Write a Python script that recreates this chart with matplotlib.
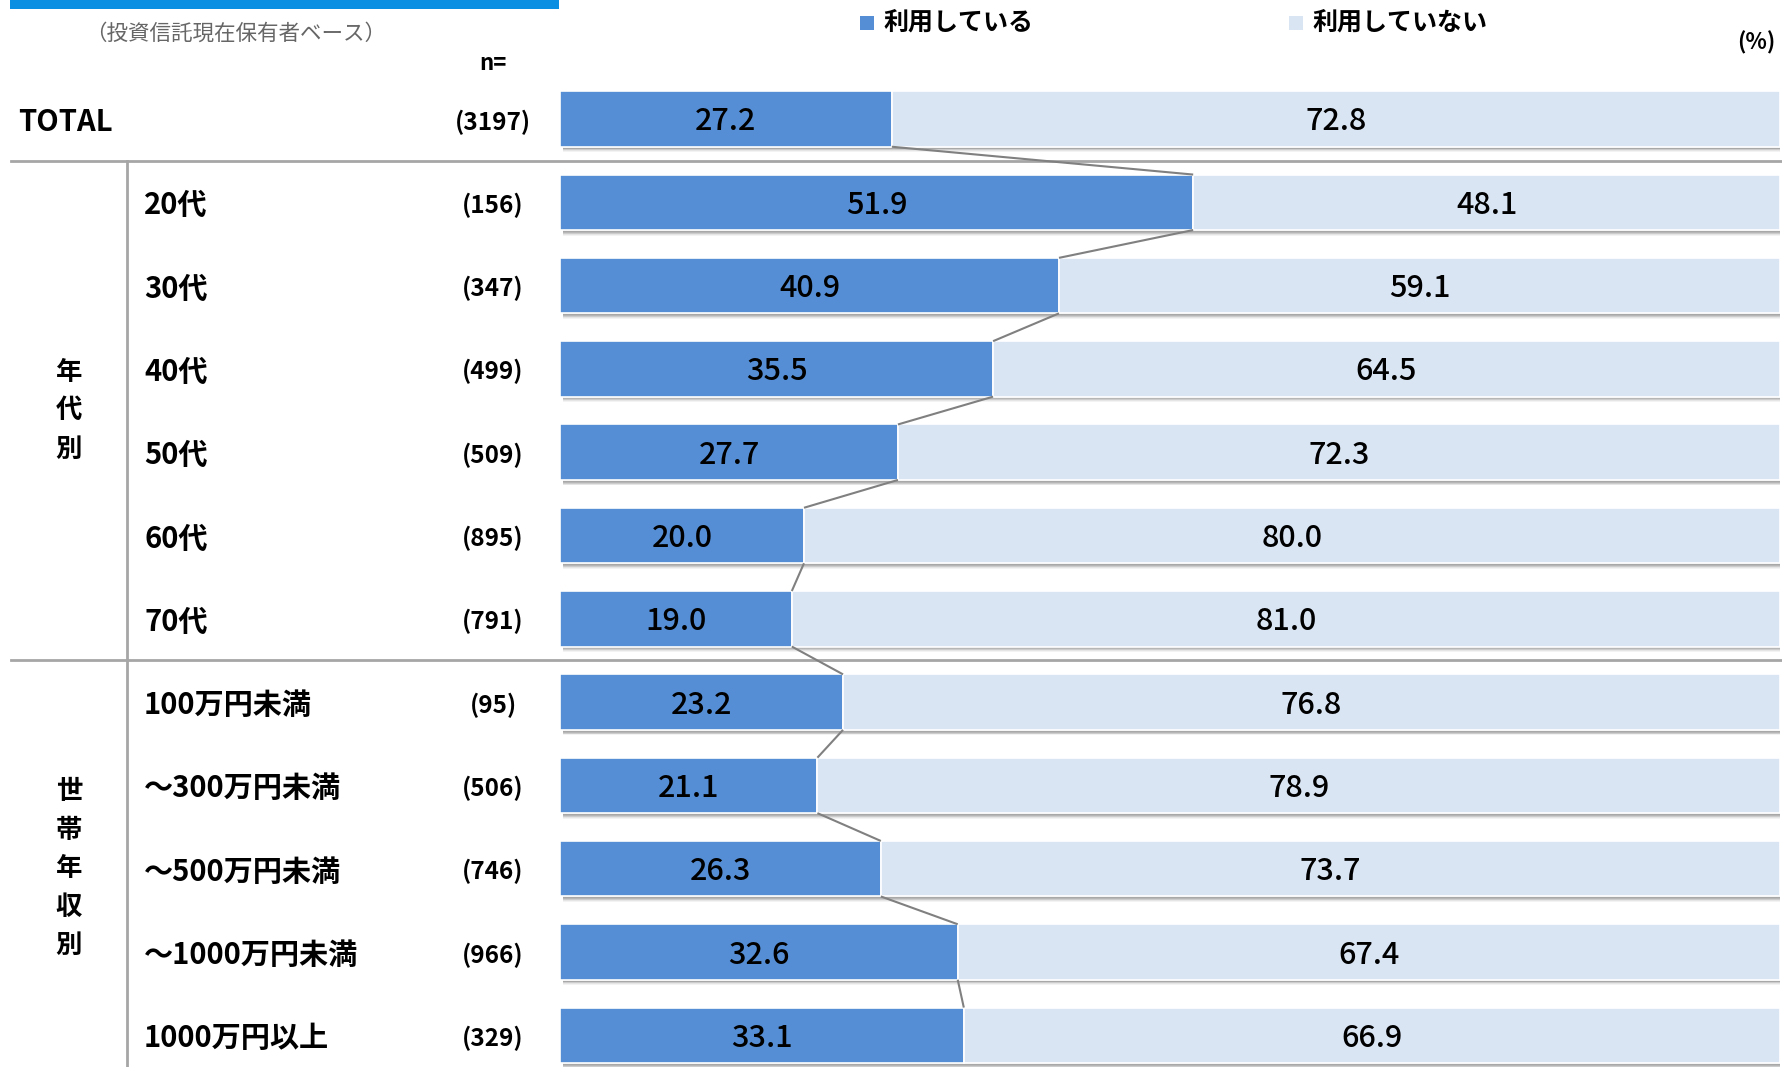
import matplotlib
matplotlib.use("Agg")
import matplotlib.pyplot as plt
from matplotlib.patches import Rectangle

plt.rcParams["font.family"] = ["Noto Sans CJK JP", "DejaVu Sans"]

# データ（％）
labels = ["TOTAL", "20代", "30代", "40代", "50代", "60代", "70代",
          "100万円未満", "～300万円未満", "～500万円未満", "～1000万円未満", "1000万円以上"]
n_values = [3197, 156, 347, 499, 509, 895, 791, 95, 506, 746, 966, 329]
using = [27.2, 51.9, 40.9, 35.5, 27.7, 20.0, 19.0, 23.2, 21.1, 26.3, 32.6, 33.1]
not_using = [72.8, 48.1, 59.1, 64.5, 72.3, 80.0, 81.0, 76.8, 78.9, 73.7, 67.4, 66.9]
series_names = ["利用している", "利用していない"]
groups = [("年代別", 1, 6), ("世帯年収別", 7, 11)]

C_USE, C_NOT = "#558ed5", "#dae5f4"
C_LINE = "#a6a6a6"

W, H = 1782, 1067
ROW0, STEP = 119, 83.3      # 行の中心位置（px）
BAR_X0, BAR_X1 = 560, 1780  # 0%〜100% の位置（px）
BAR_H = 0.666
DY = 3                      # 文字の縦位置の微調整（px）

fig = plt.figure(figsize=(W / 100, H / 100), dpi=100)

# 左側の表部分（ピクセル座標）
ov = fig.add_axes([0, 0, 1, 1])
ov.set_xlim(0, W)
ov.set_ylim(H, 0)
ov.axis("off")

# バー部分（x=％, y=行番号）
ax = fig.add_axes([BAR_X0 / W, 0, (BAR_X1 - BAR_X0) / W, 1])
ax.set_xlim(0, 100)
ax.set_ylim((H - ROW0) / STEP, -ROW0 / STEP)
ax.axis("off")
ax.patch.set_alpha(0)


def row_y(i):
    return ROW0 + STEP * i


# 上部の帯・注記・凡例
ov.add_patch(Rectangle((10, 0), 549, 9, color="#0a8fe3", lw=0))
ov.text(85, 34, "（投資信託現在保有者ベース）", fontsize=15.5, color="#666666",
        va="center", ha="left")
ov.text(493, 63, "n=", fontsize=16, fontweight="bold", va="center", ha="center")
ov.text(1775, 43, "(%)", fontsize=16, fontweight="bold", va="center", ha="right")
for x, name, c in [(867, series_names[0], C_USE), (1296, series_names[1], C_NOT)]:
    ov.add_patch(Rectangle((x - 7, 16), 14, 14, color=c, lw=0))
    ov.text(x + 16, 23, name, fontsize=18, fontweight="bold", va="center", ha="left")

# 区切り線
ov.plot([11, W], [161, 161], color=C_LINE, lw=2, zorder=1)
ov.plot([11, W], [660, 660], color=C_LINE, lw=2, zorder=1)
ov.plot([127, 127], [161, H], color=C_LINE, lw=2, zorder=1)

# 行ラベルと n 数
for i, (lab, n) in enumerate(zip(labels, n_values)):
    x = 18 if i == 0 else 144
    ov.text(x, row_y(i) + DY, lab, fontsize=21, fontweight="bold",
            va="center", ha="left")
    ov.text(493, row_y(i) + DY, f"({n})", fontsize=17.5, fontweight="bold",
            va="center", ha="center")

# グループ名（縦書き）
for name, a, b in groups:
    mid = (row_y(a) + row_y(b)) / 2
    k = len(name)
    for j, ch in enumerate(name):
        ov.text(69, mid + (j - (k - 1) / 2) * 38.5, ch, fontsize=19,
                fontweight="bold", va="center", ha="center")

# バーの影
rows = list(range(len(labels)))
for i in rows:
    base = i + BAR_H / 2
    for k, a in enumerate([0.35, 0.6, 0.5, 0.35, 0.18, 0.08]):
        ax.barh(base + 0.011 * (k + 0.5), using[i] + not_using[i], left=0.25,
                height=0.011, color="#6f6f6f", alpha=a, lw=0, zorder=1)

# 積み上げ横棒
ax.barh(rows, using, height=BAR_H, color=C_USE, edgecolor="white", lw=1.2, zorder=2)
ax.barh(rows, not_using, left=using, height=BAR_H, color=C_NOT,
        edgecolor="white", lw=1.2, zorder=2)

# 値ラベル
for i in rows:
    y = i + DY / STEP
    ax.text(using[i] / 2, y, f"{using[i]:.1f}", fontsize=22, fontweight="medium",
            va="center", ha="center", zorder=4)
    ax.text(using[i] + not_using[i] / 2, y, f"{not_using[i]:.1f}", fontsize=22,
            fontweight="medium", va="center", ha="center", zorder=4)

# 隣り合う行の「利用している」の端をつなぐ線
for i in rows[:-1]:
    ax.plot([using[i], using[i + 1]], [i + BAR_H / 2, i + 1 - BAR_H / 2],
            color="#808080", lw=1.5, zorder=3, solid_capstyle="butt")

fig.savefig("out.png", dpi=100)
